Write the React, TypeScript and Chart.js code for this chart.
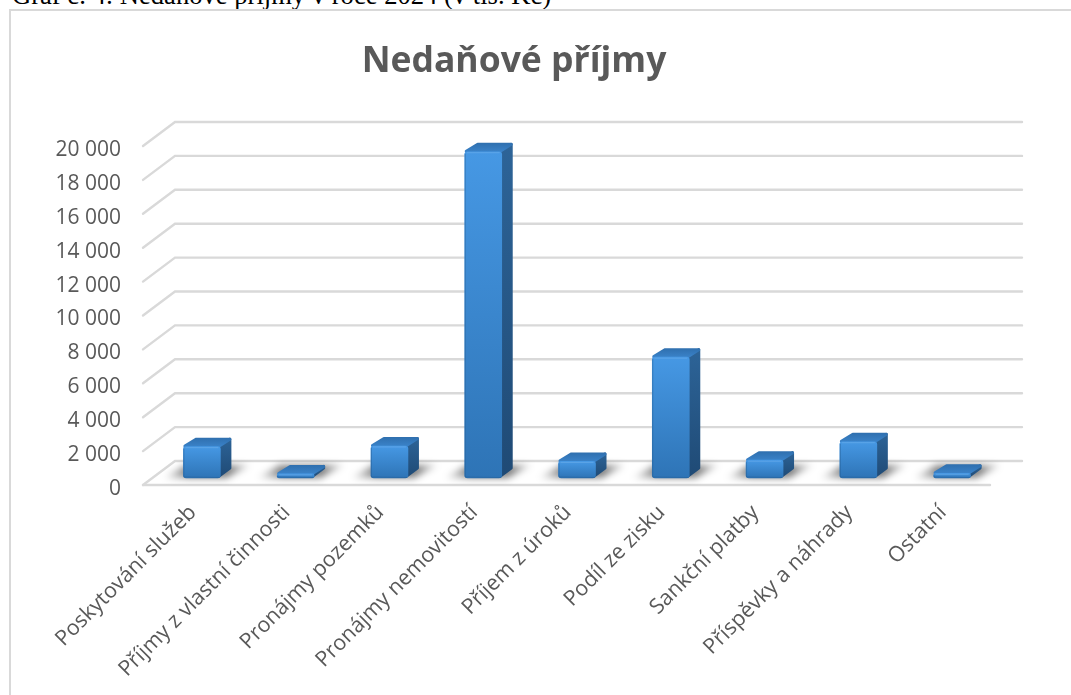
import React, { useEffect, useRef } from "react";
import { Chart, registerables } from "chart.js";

Chart.register(...registerables);

const caption = "Graf č. 4: Nedaňové příjmy v roce 2024 (v tis. Kč)";
const chartTitle = "Nedaňové příjmy";
const categories = [
  "Poskytování služeb",
  "Příjmy z vlastní činnosti",
  "Pronájmy pozemků",
  "Pronájmy nemovitostí",
  "Příjem z úroků",
  "Podíl ze zisku",
  "Sankční platby",
  "Příspěvky a náhrady",
  "Ostatní",
];
const values = [1850, 240, 1890, 19250, 980, 7130, 1050, 2140, 280];

const FONT = "'Open Sans', sans-serif";
const GRID = "#d9d9d9";
const TEXT = "#595959";
// projection of the 3D look, in pixels
const WALL_DX = 32;
const WALL_DY = 24;
const BAR_DX = 11;
const BAR_DY = 9;
const LABEL_DROP = 4; // tick labels sit this far below the front edge of their gridline
const BASE_LIFT_VALUE = 649; // bars stand in the middle of the floor, above the front edge

const poly = (ctx: CanvasRenderingContext2D, pts: number[][]) => {
  ctx.beginPath();
  pts.forEach(([x, y], i) => (i ? ctx.lineTo(x, y) : ctx.moveTo(x, y)));
  ctx.closePath();
};

const faces3d = {
  id: "faces3d",
  beforeDatasetsDraw(chart: any) {
    const { ctx, chartArea, scales } = chart;
    const y = scales.y;
    const left = chartArea.left - 12;
    const right = chartArea.right + 23;
    ctx.save();
    ctx.strokeStyle = GRID;
    ctx.lineWidth = 2.4;
    ctx.lineCap = "round";
    y.ticks.forEach((t: any) => {
      const py = y.getPixelForValue(t.value) - LABEL_DROP;
      ctx.beginPath();
      ctx.moveTo(left, py);
      ctx.lineTo(left + WALL_DX, py - WALL_DY);
      ctx.lineTo(right, py - WALL_DY);
      ctx.stroke();
    });
    const y0 = y.getPixelForValue(0) - LABEL_DROP;
    ctx.beginPath();
    ctx.moveTo(left, y0);
    ctx.lineTo(chartArea.right - 9, y0);
    ctx.stroke();
    ctx.restore();

    const meta = chart.getDatasetMeta(0);
    meta.data.forEach((bar: any) => {
      const x1 = bar.x - bar.width / 2;
      const x2 = bar.x + bar.width / 2;
      const top = bar.y;
      const base = bar.base;
      // floor shadow
      ctx.save();
      ctx.filter = "blur(3.5px)";
      const sg = ctx.createLinearGradient(x1 - 20, 0, x2 + 34, 0);
      sg.addColorStop(0, "rgba(0,0,0,0.03)");
      sg.addColorStop(0.28, "rgba(0,0,0,0.5)");
      sg.addColorStop(0.72, "rgba(0,0,0,0.5)");
      sg.addColorStop(1, "rgba(0,0,0,0.02)");
      ctx.fillStyle = sg;
      poly(ctx, [
        [x1 - 20, base],
        [x2 + 6, base],
        [x2 + 30, base - 13],
        [x1 + 2, base - 13],
      ]);
      ctx.fill();
      ctx.restore();

      ctx.save();
      ctx.lineJoin = "round";
      ctx.lineWidth = 3;
      // side face
      const side = ctx.createLinearGradient(0, top - BAR_DY, 0, base);
      side.addColorStop(0, "#2d6498");
      side.addColorStop(1, "#1f4a75");
      ctx.fillStyle = side;
      ctx.strokeStyle = side;
      poly(ctx, [
        [x2 - 2, top + 1],
        [x2 + BAR_DX - 1.5, top - BAR_DY + 1.5],
        [x2 + BAR_DX - 1.5, base - BAR_DY - 1],
        [x2 - 2, base - 1.5],
      ]);
      ctx.fill();
      ctx.stroke();
      // top face
      const cap = ctx.createLinearGradient(0, top - BAR_DY, 0, top);
      cap.addColorStop(0, "#2f6fae");
      cap.addColorStop(1, "#3a82c8");
      ctx.fillStyle = cap;
      ctx.strokeStyle = cap;
      poly(ctx, [
        [x1 + 1.5, top - 0.5],
        [x1 + BAR_DX + 2, top - BAR_DY + 1.5],
        [x2 + BAR_DX - 1.5, top - BAR_DY + 1.5],
        [x2 - 1.5, top - 0.5],
      ]);
      ctx.fill();
      ctx.stroke();
      ctx.restore();
    });
  },
  afterDatasetsDraw(chart: any) {
    const { ctx } = chart;
    chart.getDatasetMeta(0).data.forEach((bar: any) => {
      const x1 = bar.x - bar.width / 2;
      const x2 = bar.x + bar.width / 2;
      ctx.save();
      ctx.lineWidth = 1;
      ctx.strokeStyle = "rgba(110,175,235,0.6)";
      ctx.beginPath();
      ctx.moveTo(x1 + 2, bar.y + 1);
      ctx.lineTo(x2 - 2, bar.y + 1);
      ctx.stroke();
      ctx.strokeStyle = "rgba(35,90,145,0.45)";
      ctx.beginPath();
      ctx.moveTo(x1 + 0.5, bar.y + 2);
      ctx.lineTo(x1 + 0.5, bar.base - 1);
      ctx.lineTo(x2 - 1, bar.base - 0.5);
      ctx.stroke();
      ctx.restore();
    });
  },
};

export default function App() {
  const ref = useRef<HTMLCanvasElement>(null);
  useEffect(() => {
    const chart = new Chart(ref.current as HTMLCanvasElement, {
      type: "bar",
      data: {
        labels: categories,
        datasets: [
          {
            data: values,
            yAxisID: "yBars",
            barThickness: 37,
            borderRadius: 3,
            borderSkipped: false,
            backgroundColor: (c: any) => {
              const { chartArea, scales, ctx } = c.chart;
              if (!chartArea || c.raw === undefined) return "#3a85cc";
              const b = scales.yBars;
              const g = ctx.createLinearGradient(0, b.getPixelForValue(c.raw), 0, b.getPixelForValue(0));
              g.addColorStop(0, "#4698e4");
              g.addColorStop(1, "#2e74b6");
              return g;
            },
          },
        ],
      },
      options: {
        responsive: false,
        animation: false,
        devicePixelRatio: 1,
        layout: { padding: { left: 29, right: 72, top: 0, bottom: 0 } },
        plugins: {
          legend: { display: false },
          tooltip: { enabled: false },
          title: {
            display: true,
            text: chartTitle,
            color: TEXT,
            font: { family: FONT, size: 35.5, weight: "bold", lineHeight: 1.2 },
            padding: { top: 41, bottom: 150 - 41 - 42.6 },
          },
        },
        scales: {
          x: {
            grid: { display: false },
            border: { display: false },
            ticks: {
              color: TEXT,
              font: { family: FONT, size: 21.4 },
              minRotation: 45,
              maxRotation: 45,
              autoSkip: false,
              padding: 3,
              labelOffset: -9,
            },
            afterFit: (s: any) => {
              s.height = 206;
            },
          },
          y: {
            min: 0,
            max: 20000,
            grid: { display: false },
            border: { display: false },
            ticks: {
              stepSize: 2000,
              color: TEXT,
              font: { family: FONT, size: 21 },
              padding: 26,
              callback: (v: any) => String(v).replace(/\B(?=(\d{3})+$)/g, " "),
            },
            afterFit: (s: any) => {
              s.width = 126;
            },
          },
          yBars: {
            display: false,
            min: -BASE_LIFT_VALUE,
            max: 20000 - BASE_LIFT_VALUE,
          },
        },
      },
      plugins: [faces3d],
    } as any);
    return () => chart.destroy();
  }, []);
  return (
    <div style={{ position: "fixed", inset: 0, background: "#fff", overflow: "hidden" }}>
      <div
        style={{
          position: "absolute",
          left: 12,
          top: -20,
          fontFamily: "'Liberation Serif', serif",
          fontSize: 26.6,
          lineHeight: "30px",
          color: "#000",
          whiteSpace: "nowrap",
        }}
      >
        {caption}
      </div>
      <div
        style={{
          position: "absolute",
          left: 9,
          top: 9,
          width: 1100,
          height: 800,
          border: "2px solid #d9d9d9",
        }}
      />
      <canvas ref={ref} width={1071} height={695} style={{ position: "absolute", left: 0, top: 0, display: "block" }} />
    </div>
  );
}
